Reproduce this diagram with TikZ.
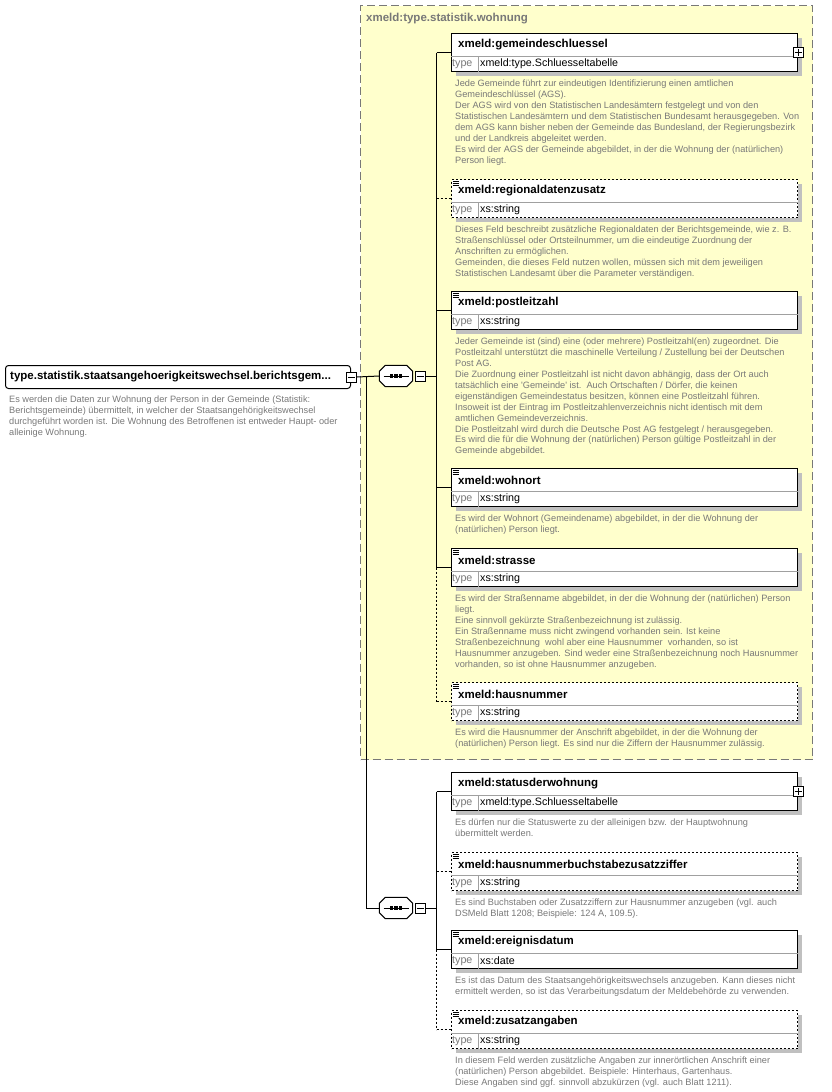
\documentclass[tikz,border=0pt]{standalone}
\usepackage{fontspec}
\setmainfont{Liberation Sans}
\usetikzlibrary{calc,positioning,shadows}

\definecolor{notegray}{HTML}{787878}
\definecolor{groupfill}{HTML}{FFFFCC}
\definecolor{shadowgray}{HTML}{C0C0C0}
\definecolor{sepgray}{HTML}{A0A0A0}

% one element box: name, top y, line style, title, type, note
\newcommand{\xelem}[6]{%
  \node[elembox,#3,anchor=north west] (#1) at (451,#2) {};
  \draw[sepline] ([yshift=-23pt]#1.north west) -- ([yshift=-23pt]#1.north east);
  \draw[sepline] ([xshift=27pt,yshift=-23pt]#1.north west) -- ([xshift=27pt]#1.south west);
  \node[elemtitle,anchor=west] (#1-t) at ([xshift=7pt,yshift=-12pt]#1.north west) {#4};
  \node[typelabel,anchor=west] (#1-k) at ([xshift=1pt,yshift=-31pt]#1.north west) {type};
  \node[typetext,anchor=west] (#1-y) at ([xshift=29pt,yshift=-31pt]#1.north west) {#5};
  \node[note,anchor=north west] (#1-n) at ([xshift=4pt,yshift=-47pt]#1.north west) {#6};
}
\newcommand{\xdoc}[1]{\foreach \d in {2,4,6} \draw[line width=0.8pt] ([shift={(1.5,\d)}]#1.north west) -- ++(6,0);}
\newcommand{\xplus}[1]{%
  \node[toggle] (#1-p) at (#1.east) {};
  \draw[line width=0.8pt] ([xshift=-3.5pt]#1-p.center) -- ([xshift=3.5pt]#1-p.center);
  \draw[line width=0.8pt] ([yshift=-3.5pt]#1-p.center) -- ([yshift=3.5pt]#1-p.center);
}

\begin{document}
\begin{tikzpicture}[x=1pt,y=-1pt,
  wire/.style={line width=1pt},
  optwire/.style={line width=1pt,dash pattern=on 2pt off 2pt},
  reqline/.style={solid},
  optline/.style={dash pattern=on 2pt off 2pt},
  groupbox/.style={draw=notegray,fill=groupfill,line width=1pt,dash pattern=on 8pt off 4pt,inner sep=0pt},
  elembox/.style={draw,fill=white,line width=1pt,minimum width=346pt,minimum height=38pt,inner sep=0pt,
    drop shadow={shadow xshift=4pt,shadow yshift=-4pt,fill=shadowgray,opacity=1}},
  rootbox/.style={draw,fill=white,line width=1pt,rounded corners=3pt,minimum width=345pt,minimum height=23pt,inner sep=0pt},
  seqbox/.style={minimum width=33pt,minimum height=21pt,inner sep=0pt},
  toggle/.style={draw,fill=white,line width=0.8pt,minimum size=10pt,inner sep=0pt},
  sepline/.style={draw=sepgray,line width=0.8pt},
  elemtitle/.style={font=\fontsize{11.5}{13}\selectfont\bfseries,inner sep=0pt},
  grouptitle/.style={font=\fontsize{11.5}{13}\selectfont\bfseries,text=notegray,inner sep=0pt},
  typelabel/.style={font=\fontsize{10.7}{12}\selectfont,text=notegray,inner sep=0pt},
  typetext/.style={font=\fontsize{10.7}{12}\selectfont,inner sep=0pt},
  note/.style={font=\fontsize{9.2}{10.9}\selectfont,text=notegray,align=left,inner sep=0pt}]
  \useasboundingbox (0,0) rectangle (831,1092);

  % group of the complex type
  \node[groupbox,minimum width=452pt,minimum height=754pt,anchor=north west] (grp) at (360,5) {};
  \node[grouptitle,anchor=west] (grp-t) at ([xshift=6pt,yshift=-14pt]grp.north west) {xmeld:type.statistik.wohnung};

  % root
  \node[rootbox,anchor=west] (root) at (5,377) {};
  \node[elemtitle,anchor=west] (root-t) at ([xshift=5pt]root.west) {type.statistik.staatsangehoerigkeitswechsel.berichtsgem...};
  \node[toggle] (root-m) at (351.5,377) {};
  \draw[line width=0.8pt] ([xshift=-3.5pt]root-m.center) -- ([xshift=3.5pt]root-m.center);
  \node[note,anchor=north west] (root-n) at (9,395.5) {Es werden die Daten zur Wohnung der Person in der Gemeinde (Statistik:\\
    Berichtsgemeinde) übermittelt, in welcher der Staatsangehörigkeitswechsel\\
    durchgeführt worden ist. Die Wohnung des Betroffenen ist entweder Haupt- oder\\
    alleinige Wohnung.};

  % sequences
  \foreach \s/\y in {seq1/376,seq2/908} {
    \node[seqbox] (\s) at (396,\y) {};
    \fill[shadowgray,shift={(4,4)}] ([xshift=6pt]\s.north west) -- ([xshift=-6pt]\s.north east) -- ([yshift=-6pt]\s.north east)
      -- ([yshift=6pt]\s.south east) -- ([xshift=-6pt]\s.south east) -- ([xshift=6pt]\s.south west)
      -- ([yshift=6pt]\s.south west) -- ([yshift=-6pt]\s.north west) -- cycle;
    \draw[line width=1pt,fill=white] ([xshift=6pt]\s.north west) -- ([xshift=-6pt]\s.north east) -- ([yshift=-6pt]\s.north east)
      -- ([yshift=6pt]\s.south east) -- ([xshift=-6pt]\s.south east) -- ([xshift=6pt]\s.south west)
      -- ([yshift=6pt]\s.south west) -- ([yshift=-6pt]\s.north west) -- cycle;
    \node[toggle,anchor=west] (\s-m) at ([xshift=2pt]\s.east) {};
    \draw[line width=0.8pt] ([xshift=-3.5pt]\s-m.center) -- ([xshift=3.5pt]\s-m.center);
    \draw[wire] ([xshift=-12.5pt]\s.center) -- ([xshift=12.5pt]\s.center);
    \foreach \dx in {-4.2,0,4.2} \fill ([shift={(\dx-1.6,-1.6)}]\s.center) rectangle ([shift={(\dx+1.6,1.6)}]\s.center);
  }

  % elements of the group
  \xelem{gemeindeschluessel}{33}{reqline}{xmeld:gemeindeschluessel}{xmeld:type.Schluesseltabelle}{Jede Gemeinde führt zur eindeutigen Identifizierung einen amtlichen\\
    Gemeindeschlüssel (AGS).\\
    Der AGS wird von den Statistischen Landesämtern festgelegt und von den\\
    Statistischen Landesämtern und dem Statistischen Bundesamt herausgegeben. Von\\
    dem AGS kann bisher neben der Gemeinde das Bundesland, der Regierungsbezirk\\
    und der Landkreis abgeleitet werden.\\
    Es wird der AGS der Gemeinde abgebildet, in der die Wohnung der (natürlichen)\\
    Person liegt.}
  \xplus{gemeindeschluessel}
  \xelem{regionaldatenzusatz}{179}{optline}{xmeld:regionaldatenzusatz}{xs:string}{Dieses Feld beschreibt zusätzliche Regionaldaten der Berichtsgemeinde, wie z. B.\\
    Straßenschlüssel oder Ortsteilnummer, um die eindeutige Zuordnung der\\
    Anschriften zu ermöglichen.\\
    Gemeinden, die dieses Feld nutzen wollen, müssen sich mit dem jeweiligen\\
    Statistischen Landesamt über die Parameter verständigen.}
  \xdoc{regionaldatenzusatz}
  \xelem{postleitzahl}{291}{reqline}{xmeld:postleitzahl}{xs:string}{Jeder Gemeinde ist (sind) eine (oder mehrere) Postleitzahl(en) zugeordnet. Die\\
    Postleitzahl unterstützt die maschinelle Verteilung / Zustellung bei der Deutschen\\
    Post AG.\\
    Die Zuordnung einer Postleitzahl ist nicht davon abhängig, dass der Ort auch\\
    tatsächlich eine \textquotesingle Gemeinde\textquotesingle\ ist.\ \ Auch Ortschaften / Dörfer, die keinen\\
    eigenständigen Gemeindestatus besitzen, können eine Postleitzahl führen.\\
    Insoweit ist der Eintrag im Postleitzahlenverzeichnis nicht identisch mit dem\\
    amtlichen Gemeindeverzeichnis.\\
    Die Postleitzahl wird durch die Deutsche Post AG festgelegt / herausgegeben.\\
    Es wird die für die Wohnung der (natürlichen) Person gültige Postleitzahl in der\\
    Gemeinde abgebildet.}
  \xdoc{postleitzahl}
  \xelem{wohnort}{468}{reqline}{xmeld:wohnort}{xs:string}{Es wird der Wohnort (Gemeindename) abgebildet, in der die Wohnung der\\
    (natürlichen) Person liegt.}
  \xdoc{wohnort}
  \xelem{strasse}{548}{reqline}{xmeld:strasse}{xs:string}{Es wird der Straßenname abgebildet, in der die Wohnung der (natürlichen) Person\\
    liegt.\\
    Eine sinnvoll gekürzte Straßenbezeichnung ist zulässig.\\
    Ein Straßenname muss nicht zwingend vorhanden sein. Ist keine\\
    Straßenbezeichnung\ \ wohl aber eine Hausnummer\ \ vorhanden, so ist\\
    Hausnummer anzugeben. Sind weder eine Straßenbezeichnung noch Hausnummer\\
    vorhanden, so ist ohne Hausnummer anzugeben.}
  \xdoc{strasse}
  \xelem{hausnummer}{682}{optline}{xmeld:hausnummer}{xs:string}{Es wird die Hausnummer der Anschrift abgebildet, in der die Wohnung der\\
    (natürlichen) Person liegt. Es sind nur die Ziffern der Hausnummer zulässig.}
  \xdoc{hausnummer}

  % elements of the second sequence
  \xelem{statusderwohnung}{772}{reqline}{xmeld:statusderwohnung}{xmeld:type.Schluesseltabelle}{Es dürfen nur die Statuswerte zu der alleinigen bzw. der Hauptwohnung\\
    übermittelt werden.}
  \xplus{statusderwohnung}
  \xelem{hausnummerbuchstabe}{852}{optline}{xmeld:hausnummerbuchstabezusatzziffer}{xs:string}{Es sind Buchstaben oder Zusatzziffern zur Hausnummer anzugeben (vgl. auch\\
    DSMeld Blatt 1208; Beispiele: 124 A, 109.5).}
  \xdoc{hausnummerbuchstabe}
  \xelem{ereignisdatum}{930}{reqline}{xmeld:ereignisdatum}{xs:date}{Es ist das Datum des Staatsangehörigkeitswechsels anzugeben. Kann dieses nicht\\
    ermittelt werden, so ist das Verarbeitungsdatum der Meldebehörde zu verwenden.}
  \xdoc{ereignisdatum}
  \xelem{zusatzangaben}{1010}{optline}{xmeld:zusatzangaben}{xs:string}{In diesem Feld werden zusätzliche Angaben zur innerörtlichen Anschrift einer\\
    (natürlichen) Person abgebildet. Beispiele: Hinterhaus, Gartenhaus.\\
    Diese Angaben sind ggf. sinnvoll abzukürzen (vgl. auch Blatt 1211).}
  \xdoc{zusatzangaben}

  % connectors
  \coordinate (rj) at ([xshift=10pt]root-m.east);
  \draw[wire] (root-m.east) -- (seq1.west);
  \draw[wire] (rj) |- (seq2.west);
  \draw[wire] (seq1-m.east) -- ++(11,0) coordinate (bus1);
  \draw[wire] (bus1 |- gemeindeschluessel.west) -- (bus1 |- strasse.west);
  \draw[optwire] (bus1 |- strasse.west) -- (bus1 |- hausnummer.west);
  \foreach \e in {gemeindeschluessel,postleitzahl,wohnort,strasse}
    \draw[wire] (bus1 |- \e.west) -- (\e.west);
  \foreach \e in {regionaldatenzusatz,hausnummer}
    \draw[optwire] (bus1 |- \e.west) -- (\e.west);
  \draw[wire] (seq2-m.east) -- ++(11,0) coordinate (bus2);
  \draw[wire] (bus2 |- statusderwohnung.west) -- (bus2 |- ereignisdatum.west);
  \draw[optwire] (bus2 |- ereignisdatum.west) -- (bus2 |- zusatzangaben.west);
  \foreach \e in {statusderwohnung,ereignisdatum}
    \draw[wire] (bus2 |- \e.west) -- (\e.west);
  \foreach \e in {hausnummerbuchstabe,zusatzangaben}
    \draw[optwire] (bus2 |- \e.west) -- (\e.west);
\end{tikzpicture}
\end{document}
